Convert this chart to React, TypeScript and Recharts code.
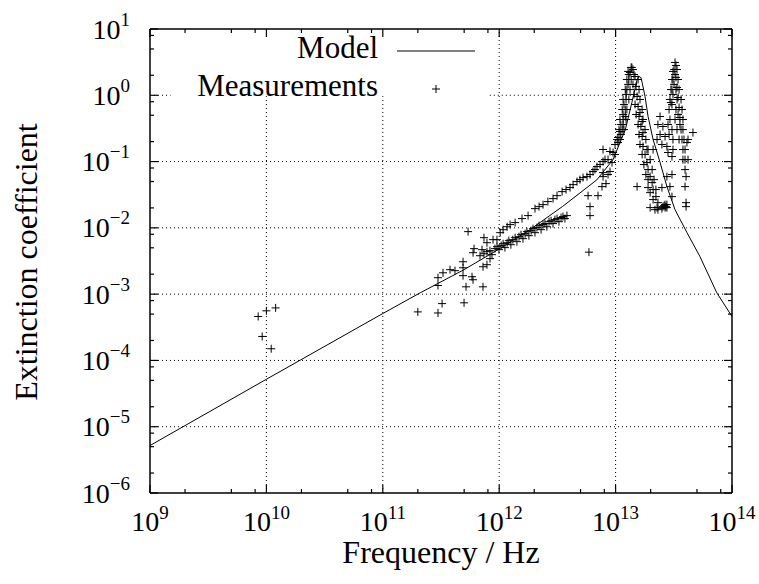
import { ScatterChart, Scatter, XAxis, YAxis, ReferenceLine } from "recharts";

const W = 759;
const H = 584;
const PLOT = { left: 150, right: 732, top: 29, bottom: 493 };
const FONT = "'Liberation Serif', 'Times New Roman', serif";

// axis ticks
const X_MAJOR = [1e9, 1e10, 1e11, 1e12, 1e13, 1e14];
const X_EXP = ["9", "10", "11", "12", "13", "14"];
const X_MINOR = [2e9, 5e9, 8e9, 2e10, 5e10, 8e10, 2e11, 5e11, 8e11, 2e12, 5e12, 8e12, 2e13, 5e13, 8e13];
const Y_MAJOR = [1e-6, 1e-5, 1e-4, 1e-3, 1e-2, 1e-1, 1, 10];
const Y_EXP = ["\u22126", "\u22125", "\u22124", "\u22123", "\u22122", "\u22121", "0", "1"];
const Y_MINOR = [2e-6, 5e-6, 8e-6, 2e-5, 5e-5, 8e-5, 2e-4, 5e-4, 8e-4, 2e-3, 5e-3, 8e-3, 2e-2, 5e-2, 8e-2, 0.2, 0.5, 0.8, 2, 5, 8];

// model curve [frequency Hz, extinction coefficient]
const MODEL: [number, number][] = [
  [1e9, 5.2e-6], [1e10, 5.2e-5], [1e11, 5.1e-4], [2.1e11, 1.05e-3], [4.9e11, 2.3e-3],
  [9.8e11, 4.7e-3], [1.84e12, 9.4e-3], [3.5e12, 2.1e-2], [6.9e12, 5.3e-2], [9.5e12, 0.107],
  [1.21e13, 0.3], [1.38e13, 0.78], [1.53e13, 1.73], [1.59e13, 1.92], [1.65e13, 1.85],
  [1.69e13, 1.56], [1.79e13, 0.96], [1.9e13, 0.48], [2.1e13, 0.215], [2.41e13, 0.097],
  [2.76e13, 0.042], [3.24e13, 0.0188], [4.1e13, 8.5e-3], [5.3e13, 3.7e-3], [7.4e13, 1.05e-3],
  [1e14, 4.6e-4],
];

// measurements, grouped by region of the spectrum
const MEAS_LOW: [number, number][] = [
  [8.5e9, 4.6e-4], [1.0e10, 5.6e-4], [1.2e10, 6.2e-4], [9.2e9, 2.3e-4], [1.1e10, 1.5e-4],
];

const MEAS_SUBMM: [number, number][] = [
  [2.0e11, 5.4e-4], [2.98e11, 5.2e-4], [3.23e11, 7.2e-4], [4.99e11, 7.4e-4], [2.98e11, 1.35e-3],
  [5.19e11, 1.29e-3], [7.26e11, 1.29e-3], [3.29e11, 2.1e-3], [2.98e11, 1.77e-3], [3.78e11, 2.34e-3],
  [4.17e11, 2.26e-3], [4.89e11, 3.08e-3], [4.89e11, 2.5e-3], [4.89e11, 1.9e-3], [5.84e11, 1.83e-3],
  [5.96e11, 1.65e-3], [7.26e11, 2.59e-3], [7.85e11, 2.78e-3], [8.34e11, 3.43e-3], [5.96e11, 4.22e-3],
  [6.08e11, 4.86e-3], [7.12e11, 4.69e-3], [7.4e11, 7.11e-3], [7.85e11, 5.97e-3], [8.85e11, 6.64e-3],
  [9.57e11, 6.64e-3], [1.02e12, 8.46e-3], [1.08e12, 9.39e-3], [5.4e11, 8.77e-3], [1.17e12, 1.04e-2],
];

const MEAS_BAND: [number, number][] = [
  [6.84e11, 3.8e-3], [7.4e11, 4.07e-3], [7.85e11, 4.37e-3], [8.33e11, 4.53e-3], [8.67e11, 3.94e-3],
  [9.2e11, 4.86e-3], [9.57e11, 5.2e-3], [9.96e11, 4.69e-3], [1.04e12, 5.39e-3], [1.08e12, 5.77e-3],
  [1.12e12, 5.03e-3], [1.17e12, 5.97e-3], [1.21e12, 6.41e-3], [1.26e12, 5.57e-3], [1.31e12, 6.64e-3],
  [1.37e12, 7.11e-3], [1.42e12, 6.19e-3], [1.48e12, 7.36e-3], [1.54e12, 7.89e-3], [1.6e12, 6.87e-3],
  [1.67e12, 8.17e-3], [1.73e12, 8.77e-3], [1.8e12, 7.62e-3], [1.88e12, 9.08e-3], [1.95e12, 9.73e-3],
  [2.03e12, 8.46e-3], [2.11e12, 1.01e-2], [2.2e12, 1.08e-2], [2.29e12, 9.39e-3], [2.38e12, 1.12e-2],
  [2.47e12, 1.16e-2], [2.57e12, 1.04e-2], [2.68e12, 1.24e-2], [2.79e12, 1.28e-2], [2.9e12, 1.16e-2],
  [3.01e12, 1.33e-2], [3.14e12, 1.38e-2], [3.26e12, 1.24e-2], [3.4e12, 1.43e-2], [3.53e12, 1.48e-2],
  [3.67e12, 1.38e-2], [3.82e12, 1.53e-2],
];

const MEAS_UPPER: [number, number][] = [
  [1.24e12, 1.12e-2], [1.37e12, 1.2e-2], [1.57e12, 1.38e-2], [1.77e12, 1.53e-2], [2.03e12, 1.95e-2],
  [2.2e12, 2.09e-2], [2.38e12, 2.24e-2], [2.62e12, 2.49e-2], [2.9e12, 2.76e-2], [3.14e12, 3.06e-2],
  [3.47e12, 3.52e-2], [3.75e12, 3.78e-2], [4.06e12, 4.05e-2], [4.31e12, 4.49e-2], [4.66e12, 4.99e-2],
  [4.94e12, 5.34e-2], [5.25e12, 5.73e-2], [5.68e12, 5.93e-2], [6.03e12, 6.37e-2], [6.39e12, 7.07e-2],
  [6.65e12, 7.57e-2], [6.92e12, 8.4e-2], [7.35e12, 9.02e-2], [7.8e12, 0.1], [8.11e12, 0.107],
  [8.95e12, 0.142], [9.89e12, 0.181], [1.05e13, 0.231], [1.09e13, 0.284], [1.16e13, 0.362],
  [1.21e13, 0.479], [7.8e12, 0.152], [9.51e12, 0.137], [8.61e12, 0.107], [7.8e12, 0.0682],
];

const MEAS_LOWER: [number, number][] = [
  [5.8e12, 3.06e-2], [7.06e12, 3.06e-2], [6.03e12, 2.09e-2], [6.03e12, 1.53e-2], [5.9e12, 4.3e-3],
  [7.64e12, 4.19e-2], [8.27e12, 4.65e-2], [7.8e12, 5.93e-2], [8.61e12, 6.37e-2], [8.95e12, 7.07e-2],
  [9.31e12, 9.66e-2], [9.89e12, 0.128],
];

const MEAS_PEAK1: [number, number][] = [
  [1.05e13, 0.194], [1.09e13, 0.215], [1.11e13, 0.256], [1.14e13, 0.304], [1.16e13, 0.431],
  [1.18e13, 0.304], [1.21e13, 0.61], [1.23e13, 0.865], [1.23e13, 0.431], [1.25e13, 1.22],
  [1.25e13, 0.61], [1.3e13, 1.73], [1.3e13, 0.865], [1.33e13, 2.21], [1.33e13, 1.22],
  [1.36e13, 1.73], [1.38e13, 2.63], [1.41e13, 2.45], [1.44e13, 2.06], [1.47e13, 1.92],
  [1.5e13, 1.36], [1.53e13, 0.96], [1.56e13, 0.677], [1.59e13, 0.479], [1.62e13, 0.55],
  [1.65e13, 0.338], [1.69e13, 0.402], [1.69e13, 0.239], [1.72e13, 0.274], [1.72e13, 0.169],
  [1.79e13, 0.128], [1.86e13, 0.152], [1.86e13, 0.0966], [1.9e13, 0.0757], [1.98e13, 0.0593],
  [2.06e13, 0.0482], [2.1e13, 0.0378], [2.22e13, 0.0296], [2.31e13, 0.024], [1.53e13, 0.0419],
  [1.9e13, 0.0405], [1.98e13, 0.034], [2.1e13, 0.0267], [2.18e13, 0.0188], [2.31e13, 0.0188],
  [2.5e13, 0.0195], [2.66e13, 0.0202], [2.71e13, 0.0209], [2.76e13, 0.0224], [1.98e13, 0.0202],
  [2.27e13, 0.0202], [2.55e13, 0.0209], [2.66e13, 0.0224], [2.76e13, 0.0202], [2.61e13, 0.0216],
  // rising flank, outer and middle rows
  [1.03e13, 0.215], [1.07e13, 0.304], [1.09e13, 0.431], [1.14e13, 0.61], [1.16e13, 0.865],
  [1.21e13, 1.22], [1.25e13, 1.73], [1.28e13, 2.29], [1.11e13, 0.362], [1.16e13, 0.513],
  [1.18e13, 0.727], [1.23e13, 1.03], [1.28e13, 1.46], [1.3e13, 2.06], [1.36e13, 2.63],
  // falling flank, inner and outer rows
  [1.41e13, 1.46], [1.44e13, 1.03], [1.47e13, 0.727], [1.5e13, 0.513], [1.56e13, 0.362],
  [1.59e13, 0.256], [1.62e13, 0.181], [1.69e13, 0.128], [1.75e13, 0.0902], [1.82e13, 0.0637],
  [1.9e13, 0.0534], [1.56e13, 1.73], [1.59e13, 1.22], [1.62e13, 0.865], [1.69e13, 0.61],
  [1.72e13, 0.431], [1.79e13, 0.304], [1.82e13, 0.215], [1.9e13, 0.152], [1.98e13, 0.107],
  [2.06e13, 0.0757], [2.14e13, 0.0534], [2.22e13, 0.0378],
];

const MEAS_HUMP: [number, number][] = [
  [2.41e13, 0.479], [2.55e13, 0.338], [2.66e13, 0.239], [2.76e13, 0.169], [2.82e13, 0.137],
  [3.05e13, 0.119], [3.11e13, 0.152], [3.11e13, 0.215], [3.05e13, 0.304], [2.93e13, 0.431],
  [2.31e13, 0.362], [2.41e13, 0.256], [2.5e13, 0.181], [2.1e13, 0.152], [2.27e13, 0.215],
  [2.76e13, 0.0593], [3.05e13, 0.0637], [2.93e13, 0.0419], [2.5e13, 0.0405], [3.05e13, 0.0296],
];

const MEAS_PEAK2: [number, number][] = [
  [2.99e13, 0.778], [3.05e13, 1.22], [3.11e13, 1.73], [3.18e13, 2.45], [3.24e13, 3.13],
  [3.3e13, 2.82], [3.37e13, 2.45], [3.44e13, 1.73], [3.51e13, 1.22], [3.65e13, 0.865],
  [3.72e13, 0.61], [3.79e13, 0.431], [3.79e13, 0.304], [3.87e13, 0.215], [3.95e13, 0.152],
  [3.95e13, 0.107], [3.95e13, 0.0757], [4.03e13, 0.0593], [3.95e13, 0.0419], [4.03e13, 0.024],
  [4.03e13, 0.0209], [3.24e13, 2.06], [3.3e13, 1.22], [3.37e13, 0.865], [3.44e13, 0.513],
  [3.57e13, 0.362], [3.18e13, 1.46], [3.11e13, 1.03], [3.05e13, 0.727], [4.62e13, 0.274],
  [4.19e13, 0.215], [4.1e13, 0.194], [4.19e13, 0.107],
  [2.88e13, 0.61], [2.93e13, 0.865], [2.99e13, 1.22], [3.05e13, 1.73], [3.11e13, 2.29],
  [3.3e13, 1.86], [3.37e13, 1.31], [3.44e13, 0.927], [3.51e13, 0.655], [3.57e13, 0.462],
  [3.65e13, 0.304], [3.72e13, 0.215], [3.79e13, 0.152], [3.79e13, 0.107], [2.82e13, 0.362],
  [2.88e13, 0.256], [3.3e13, 0.61], [3.24e13, 0.431], [3.37e13, 0.304], [3.51e13, 0.215],
];

const modelData = MODEL.map(([f, k]) => ({ f, k }));
const measData = [
  ...MEAS_LOW, ...MEAS_SUBMM, ...MEAS_BAND, ...MEAS_UPPER,
  ...MEAS_LOWER, ...MEAS_PEAK1, ...MEAS_HUMP, ...MEAS_PEAK2,
].map(([f, k]) => ({ f, k }));

const GRID = { stroke: "#000", strokeDasharray: "1 3", strokeWidth: 1 };

function XTick(props: any) {
  const { x, y, payload } = props;
  const i = X_MAJOR.indexOf(payload.value);
  const len = i >= 0 ? 8 : 4;
  return (
    <g>
      <line x1={x} x2={x} y1={y} y2={y - len} stroke="#000" strokeWidth={1.2} />
      <line x1={x} x2={x} y1={PLOT.top} y2={PLOT.top + len} stroke="#000" strokeWidth={1.2} />
      {i >= 0 && (
        <text x={x} y={y + 38} textAnchor="middle" fontFamily={FONT} fontSize={28} fill="#000">
          10<tspan dy={-12} fontSize={19}>{X_EXP[i]}</tspan>
        </text>
      )}
    </g>
  );
}

function YTick(props: any) {
  const { y, payload } = props;
  const i = Y_MAJOR.indexOf(payload.value);
  const len = i >= 0 ? 8 : 4;
  return (
    <g>
      <line x1={PLOT.left} x2={PLOT.left + len} y1={y} y2={y} stroke="#000" strokeWidth={1.2} />
      <line x1={PLOT.right} x2={PLOT.right - len} y1={y} y2={y} stroke="#000" strokeWidth={1.2} />
      {i >= 0 && (
        <text x={PLOT.left - 20} y={y + 9.5} textAnchor="end" fontFamily={FONT} fontSize={28} fill="#000">
          10<tspan dy={-13} fontSize={19}>{Y_EXP[i]}</tspan>
        </text>
      )}
    </g>
  );
}

function Plus(props: any) {
  const { cx, cy } = props;
  if (cx == null || cy == null) return <g />;
  return (
    <path
      d={`M${cx - 4},${cy}H${cx + 4}M${cx},${cy - 4}V${cy + 4}`}
      stroke="#000"
      strokeWidth={1}
      fill="none"
    />
  );
}

export default function App() {
  return (
    <div style={{ position: "absolute", left: 0, top: 0, width: W, height: H, background: "#fff" }}>
      <ScatterChart
        width={W}
        height={H}
        margin={{ top: PLOT.top, right: W - PLOT.right, left: 0, bottom: 0 }}
      >
        <XAxis
          dataKey="f"
          type="number"
          scale="log"
          domain={[1e9, 1e14]}
          allowDataOverflow
          ticks={[...X_MAJOR, ...X_MINOR]}
          interval={0}
          tickSize={0}
          tickMargin={0}
          tickLine={false}
          axisLine={{ stroke: "#000", strokeWidth: 1.5 }}
          tick={(p: any) => <XTick {...p} />}
          height={H - PLOT.bottom}
        />
        <YAxis
          dataKey="k"
          type="number"
          scale="log"
          domain={[1e-6, 10]}
          allowDataOverflow
          ticks={[...Y_MAJOR, ...Y_MINOR]}
          interval={0}
          tickSize={0}
          tickMargin={0}
          tickLine={false}
          axisLine={{ stroke: "#000", strokeWidth: 1.5 }}
          tick={(p: any) => <YTick {...p} />}
          width={PLOT.left}
        />
        {[1e12, 1e13].map((v) => (
          <ReferenceLine key={"gx" + v} x={v} {...GRID} />
        ))}
        {[1e10, 1e11].map((v) => (
          <ReferenceLine key={"gs" + v} segment={[{ x: v, y: 1e-6 }, { x: v, y: 0.97 }]} {...GRID} />
        ))}
        {[1e-5, 1e-4, 1e-3, 1e-2, 1e-1].map((v) => (
          <ReferenceLine key={"gy" + v} y={v} {...GRID} />
        ))}
        <ReferenceLine segment={[{ x: 1e9, y: 1 }, { x: 1.5e9, y: 1 }]} {...GRID} />
        <ReferenceLine segment={[{ x: 8.3e11, y: 1 }, { x: 1e14, y: 1 }]} {...GRID} />
        <ReferenceLine y={10} stroke="#000" strokeWidth={1.5} />
        <ReferenceLine x={1e14} stroke="#000" strokeWidth={1.5} />
        <Scatter
          data={modelData}
          line={{ stroke: "#000", strokeWidth: 1 }}
          shape={() => <g />}
          isAnimationActive={false}
        />
        <Scatter data={measData} shape={(p: any) => <Plus {...p} />} isAnimationActive={false} />
      </ScatterChart>
      <svg
        width={W}
        height={H}
        style={{ position: "absolute", left: 0, top: 0, pointerEvents: "none" }}
        fontFamily={FONT}
        fill="#000"
      >
        <text transform="translate(37,262) rotate(-90)" textAnchor="middle" fontSize={32}>
          Extinction coefficient
        </text>
        <text x={441} y={563} textAnchor="middle" fontSize={32}>
          Frequency / Hz
        </text>
        <text x={378} y={58} textAnchor="end" fontSize={31}>
          Model
        </text>
        <line x1={397} x2={475} y1={51} y2={51} stroke="#000" strokeWidth={1} />
        <text x={378} y={96} textAnchor="end" fontSize={31}>
          Measurements
        </text>
        <path d="M432,89H440M436,85V93" stroke="#000" strokeWidth={1} fill="none" />
      </svg>
    </div>
  );
}
